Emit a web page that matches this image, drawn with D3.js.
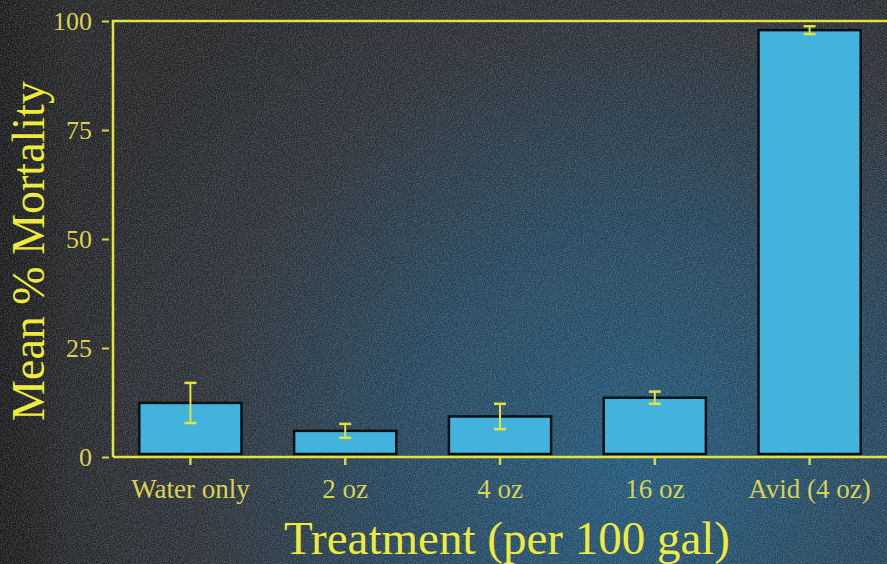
<!DOCTYPE html>
<html>
<head>
<meta charset="utf-8">
<script src="https://cdn.jsdelivr.net/npm/d3@7"></script>
<style>
  html, body { margin: 0; padding: 0; background: #222426; }
  svg { display: block; }
</style>
</head>
<body>
<svg id="chart" width="887" height="564"></svg>
<script>
// Treatments and mean % mortality with standard errors
const categories = ["Water only", "2 oz", "4 oz", "16 oz", "Avid (4 oz)"];
const meanMortality = [12.4, 6.0, 9.3, 13.6, 97.9];
const stdError = [4.6, 1.6, 2.9, 1.4, 0.9];
const yTicks = [0, 25, 50, 75, 100];

const W = 887, H = 564;
const plot = { left: 113, top: 21, bottom: 457 };

const svg = d3.select("#chart");
const defs = svg.append("defs");

// Dark backdrop, bluer toward the lower middle-right
const grad = defs.append("radialGradient")
  .attr("id", "bg").attr("gradientUnits", "userSpaceOnUse")
  .attr("cx", 640).attr("cy", 470).attr("r", 620);
grad.append("stop").attr("offset", "0%").attr("stop-color", "#20577a");
grad.append("stop").attr("offset", "38%").attr("stop-color", "#23455d");
grad.append("stop").attr("offset", "70%").attr("stop-color", "#293037");
grad.append("stop").attr("offset", "100%").attr("stop-color", "#222324");

const edge = defs.append("linearGradient").attr("id", "edge")
  .attr("x1", 0).attr("x2", 1).attr("y1", 0).attr("y2", 0);
edge.append("stop").attr("offset", "0%").attr("stop-color", "#141516").attr("stop-opacity", 0.8);
edge.append("stop").attr("offset", "8%").attr("stop-color", "#141516").attr("stop-opacity", 0);

// Paper grain
const grain = defs.append("filter").attr("id", "grain")
  .attr("x", 0).attr("y", 0).attr("width", "100%").attr("height", "100%");
grain.append("feTurbulence").attr("type", "fractalNoise")
  .attr("baseFrequency", 0.85).attr("numOctaves", 2).attr("seed", 3).attr("result", "n");
grain.append("feColorMatrix").attr("in", "n").attr("type", "matrix")
  .attr("values", "0 0 0 0 0.62  0 0 0 0 0.64  0 0 0 0 0.68  1.2 0 0 0 -0.4");

svg.append("rect").attr("width", W).attr("height", H).attr("fill", "url(#bg)");
svg.append("rect").attr("width", W).attr("height", H).attr("fill", "url(#edge)");
svg.append("rect").attr("width", W).attr("height", H).attr("filter", "url(#grain)").attr("opacity", 0.45);

const x = d3.scaleBand()
  .domain(categories)
  .range([plot.left, W])
  .paddingInner(0.34)
  .paddingOuter(0.17);

const y = d3.scaleLinear()
  .domain([0, 100])
  .range([plot.bottom, plot.top]);

const yellow = "#e4e23c";
const labelYellow = "#d9d253";
const serif = "'Liberation Serif', 'Times New Roman', serif";

const data = categories.map((c, i) => ({ c, m: meanMortality[i], se: stdError[i] }));

// Bars
svg.append("g").selectAll("rect")
  .data(data).join("rect")
  .attr("x", d => x(d.c))
  .attr("y", d => y(d.m))
  .attr("width", x.bandwidth())
  .attr("height", d => y(0) - 3 - y(d.m))
  .attr("fill", "#42b3dc")
  .attr("stroke", "#0d1013")
  .attr("stroke-width", 2.5);

// Error bars
const eb = svg.append("g").attr("stroke", yellow);
eb.selectAll("line.v").data(data).join("line").attr("class", "v")
  .attr("x1", d => x(d.c) + x.bandwidth() / 2)
  .attr("x2", d => x(d.c) + x.bandwidth() / 2)
  .attr("y1", d => y(d.m + d.se))
  .attr("y2", d => y(d.m - d.se))
  .attr("stroke-width", 2);
["hi", "lo"].forEach(k => {
  eb.selectAll("line." + k).data(data).join("line").attr("class", k)
    .attr("x1", d => x(d.c) + x.bandwidth() / 2 - 6)
    .attr("x2", d => x(d.c) + x.bandwidth() / 2 + 6)
    .attr("y1", d => y(k === "hi" ? d.m + d.se : d.m - d.se))
    .attr("y2", d => y(k === "hi" ? d.m + d.se : d.m - d.se))
    .attr("stroke-width", 2.5);
});

// Frame: left side and top
svg.append("path")
  .attr("d", `M${plot.left},${y(0)} V${y(100)} H${W}`)
  .attr("fill", "none").attr("stroke", yellow).attr("stroke-width", 2.5);

// Y axis
const yAxis = svg.append("g")
  .attr("transform", `translate(${plot.left},0)`)
  .call(d3.axisLeft(y).tickValues(yTicks).tickSize(9).tickPadding(12));
yAxis.select(".domain").remove();
yAxis.selectAll(".tick line").attr("stroke", labelYellow).attr("stroke-width", 2)
  .attr("x2", -4).attr("x1", -11);
yAxis.selectAll(".tick text")
  .attr("fill", labelYellow).attr("font-family", serif).attr("font-size", 26)
  .attr("dy", "0.34em");

// X axis
const xAxis = svg.append("g")
  .attr("transform", `translate(0,${y(0)})`)
  .call(d3.axisBottom(x).tickSize(8).tickPadding(14));
xAxis.select(".domain").attr("stroke", yellow).attr("stroke-width", 2.5)
  .attr("d", `M${plot.left},0 H${W}`);
xAxis.selectAll(".tick line").attr("stroke", labelYellow).attr("stroke-width", 2.5);
xAxis.selectAll(".tick text")
  .attr("fill", labelYellow).attr("font-family", serif).attr("font-size", 27);

// Axis titles
svg.append("text")
  .attr("x", (plot.left + W) / 2 + 7)
  .attr("y", 554)
  .attr("text-anchor", "middle")
  .attr("fill", "#eeea3e")
  .attr("font-family", serif)
  .attr("font-size", 47)
  .text("Treatment (per 100 gal)");

svg.append("text")
  .attr("transform", `translate(44,251) rotate(-90)`)
  .attr("text-anchor", "middle")
  .attr("fill", "#eeea3e")
  .attr("font-family", serif)
  .attr("font-size", 46)
  .text("Mean % Mortality");
</script>
</body>
</html>
